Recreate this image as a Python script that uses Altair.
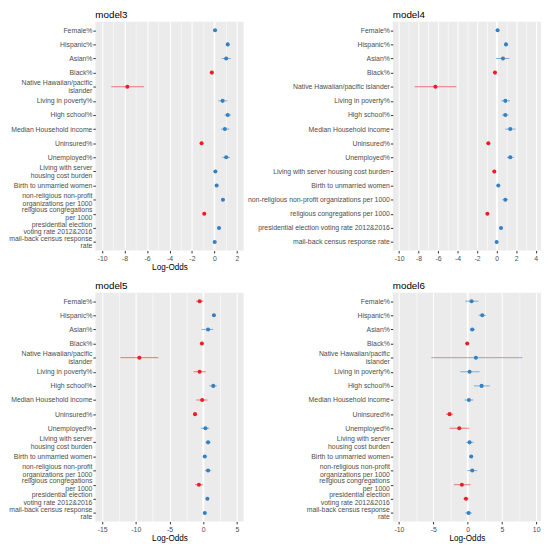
import altair as alt
import pandas as pd

labels = [
    "Female%", "Hispanic%", "Asian%", "Black%",
    "Native Hawaiian/pacific|islander", "Living in poverty%", "High school%",
    "Median Household income", "Uninsured%", "Unemployed%",
    "Living with server|housing cost burden", "Birth to unmarried women",
    "non-religious non-profit|organizations per 1000",
    "religious congregations|per 1000",
    "presidential election|voting rate 2012&2016",
    "mail-back census response|rate",
]

m3_est = [0.06, 1.19, 1.05, -0.23, -7.75, 0.73, 1.19, 0.93, -1.14, 1.05, 0.09, 0.20, 0.76, -0.90, 0.41, 0.03]
m3_lo = [-0.10, 1.05, 0.65, -0.38, -9.18, 0.35, 0.90, 0.58, -1.28, 0.70, -0.06, 0.07, 0.60, -1.07, 0.28, -0.10]
m3_hi = [0.20, 1.33, 1.45, -0.08, -6.26, 1.17, 1.48, 1.34, -1.00, 1.40, 0.24, 0.33, 0.92, -0.73, 0.54, 0.16]

m4_est = [0.10, 0.96, 0.65, -0.17, -6.28, 0.89, 0.89, 1.40, -0.85, 1.40, -0.24, 0.17, 0.89, -0.95, 0.45, 0.00]
m4_lo = [-0.05, 0.80, -0.06, -0.32, -8.40, 0.48, 0.55, 0.89, -1.00, 1.05, -0.40, 0.02, 0.60, -1.10, 0.30, -0.15]
m4_hi = [0.25, 1.12, 1.30, -0.02, -4.13, 1.37, 1.23, 1.95, -0.70, 1.75, -0.08, 0.32, 1.18, -0.80, 0.60, 0.15]

m5_est = [-0.53, 1.60, 0.73, -0.19, -9.47, -0.53, 1.50, -0.15, -1.21, 0.34, 0.73, 0.24, 0.73, -0.63, 0.63, 0.24]
m5_lo = [-1.07, 1.35, -0.24, -0.40, -12.28, -1.41, 0.92, -1.02, -1.45, -0.34, 0.35, 0.02, 0.25, -1.20, 0.40, 0.02]
m5_hi = [0.05, 1.85, 1.50, 0.02, -6.65, 0.39, 2.04, 0.63, -0.97, 0.92, 1.11, 0.46, 1.21, -0.06, 0.86, 0.46]

m6_est = [0.58, 2.14, 0.68, -0.05, 1.21, 0.29, 2.04, 0.19, -2.62, -1.21, 0.29, 0.53, 0.68, -0.83, -0.24, 0.15]
m6_lo = [-0.34, 1.60, 0.34, -0.30, -5.29, -1.07, 0.92, -0.44, -3.15, -2.62, -0.20, 0.30, -0.05, -1.99, -0.63, -0.34]
m6_hi = [1.60, 2.67, 1.10, 0.20, 8.00, 1.75, 3.25, 0.83, -2.10, 0.24, 0.87, 0.76, 1.41, 0.44, 0.15, 0.63]

RED = "#EE1C24"
BLUE = "#3480C3"
FONT = "Liberation Sans"


def make_df(est, lo, hi):
    return pd.DataFrame({
        "label": labels,
        "est": est,
        "lo": lo,
        "hi": hi,
        "sign": ["neg" if v < 0 else "pos" for v in est],
    })


def panel(title, est, lo, hi, domain, majors, minors, step, wrap, xtitle):
    d = make_df(est, lo, hi)
    vals = sorted(majors + minors)
    is_major = f"abs(datum.value % {step}) < 1e-9"
    xaxis = alt.Axis(
        values=vals,
        title=xtitle if xtitle else None,
        labelExpr=f"{is_major} ? toString(datum.value) : ''",
        labelOverlap=False,
        labelFlush=False,
        gridColor="white",
        gridWidth={"condition": {"test": is_major, "value": 1.1}, "value": 0.55},
        tickOpacity={"condition": {"test": is_major, "value": 1}, "value": 0},
        tickColor="#333333",
        tickSize=2.5,
        domain=False,
        labelColor="#4D4D4D",
        labelFontSize=7,
        labelPadding=1.5,
        titleFontSize=8.3,
        titleFontWeight="normal",
        titleColor="black",
        titlePadding=1,
    )
    if wrap:
        yaxis_extra = dict(
            labelExpr="split(datum.label, '|')",
            labelOffset={"condition": {"test": "indexof(datum.value, '|') >= 0", "value": -3.9}, "value": 0},
        )
    else:
        yaxis_extra = dict(labelExpr="replace(datum.label, '|', ' ')")
    yaxis = alt.Axis(
        title=None,
        gridColor="white",
        gridWidth=1.1,
        domain=False,
        tickColor="#333333",
        tickSize=2.5,
        labelColor="#4D4D4D",
        labelFontSize=7,
        labelLineHeight=7.8,
        labelPadding=1,
        labelLimit=300,
        labelOverlap=False,
        **yaxis_extra,
    )
    xscale = alt.Scale(domain=domain, nice=False, zero=False)
    y = alt.Y("label:N", sort=labels, scale=alt.Scale(type="point", padding=0.6), axis=yaxis)
    color = alt.Color("sign:N", scale=alt.Scale(domain=["neg", "pos"], range=[RED, BLUE]), legend=None)

    zero = alt.Chart(pd.DataFrame({"est": [0]})).mark_rule(
        color="white", strokeWidth=1.5
    ).encode(x=alt.X("est:Q", scale=xscale, axis=xaxis))
    bars = alt.Chart(d).mark_rule(strokeWidth=1, opacity=0.6).encode(
        x=alt.X("lo:Q", scale=xscale, axis=xaxis),
        x2="hi:Q", y=y, color=color
    )
    pts = alt.Chart(d).mark_circle(size=17, opacity=1).encode(
        x=alt.X("est:Q", scale=xscale, axis=xaxis), y=y, color=color
    )
    return alt.layer(zero, bars, pts).properties(
        width=151,
        height=233,
        title=alt.TitleParams(
            text=title, anchor="start", frame="group", fontSize=10,
            fontWeight="normal", color="black", offset=1, font=FONT,
        ),
    )


p3 = panel("model3", m3_est, m3_lo, m3_hi, [-10.6, 2.6],
           [-10, -8, -6, -4, -2, 0, 2], [-9, -7, -5, -3, -1, 1], 2, True, "Log-Odds")
p4 = panel("model4", m4_est, m4_lo, m4_hi, [-10.65, 4.55],
           [-10, -8, -6, -4, -2, 0, 2, 4], [-9, -7, -5, -3, -1, 1, 3], 2, False, None)
p5 = panel("model5", m5_est, m5_lo, m5_hi, [-16.0, 6.0],
           [-15, -10, -5, 0, 5], [-12.5, -7.5, -2.5, 2.5], 5, True, "Log-Odds")
p6 = panel("model6", m6_est, m6_lo, m6_hi, [-10.9, 10.7],
           [-10, -5, 0, 5, 10], [-7.5, -2.5, 2.5, 7.5], 5, True, "Log-Odds")

chart = alt.concat(
    p3, p4, p5, p6, columns=2, spacing={"row": 43, "column": 152}, bounds="flush"
).properties(
    padding={"left": 0, "top": -3, "right": 0, "bottom": 0}
).configure(font=FONT).configure_view(fill="#EBEBEB", stroke=None)

chart.save("out.html", embed_options={"renderer": "svg", "actions": False})
